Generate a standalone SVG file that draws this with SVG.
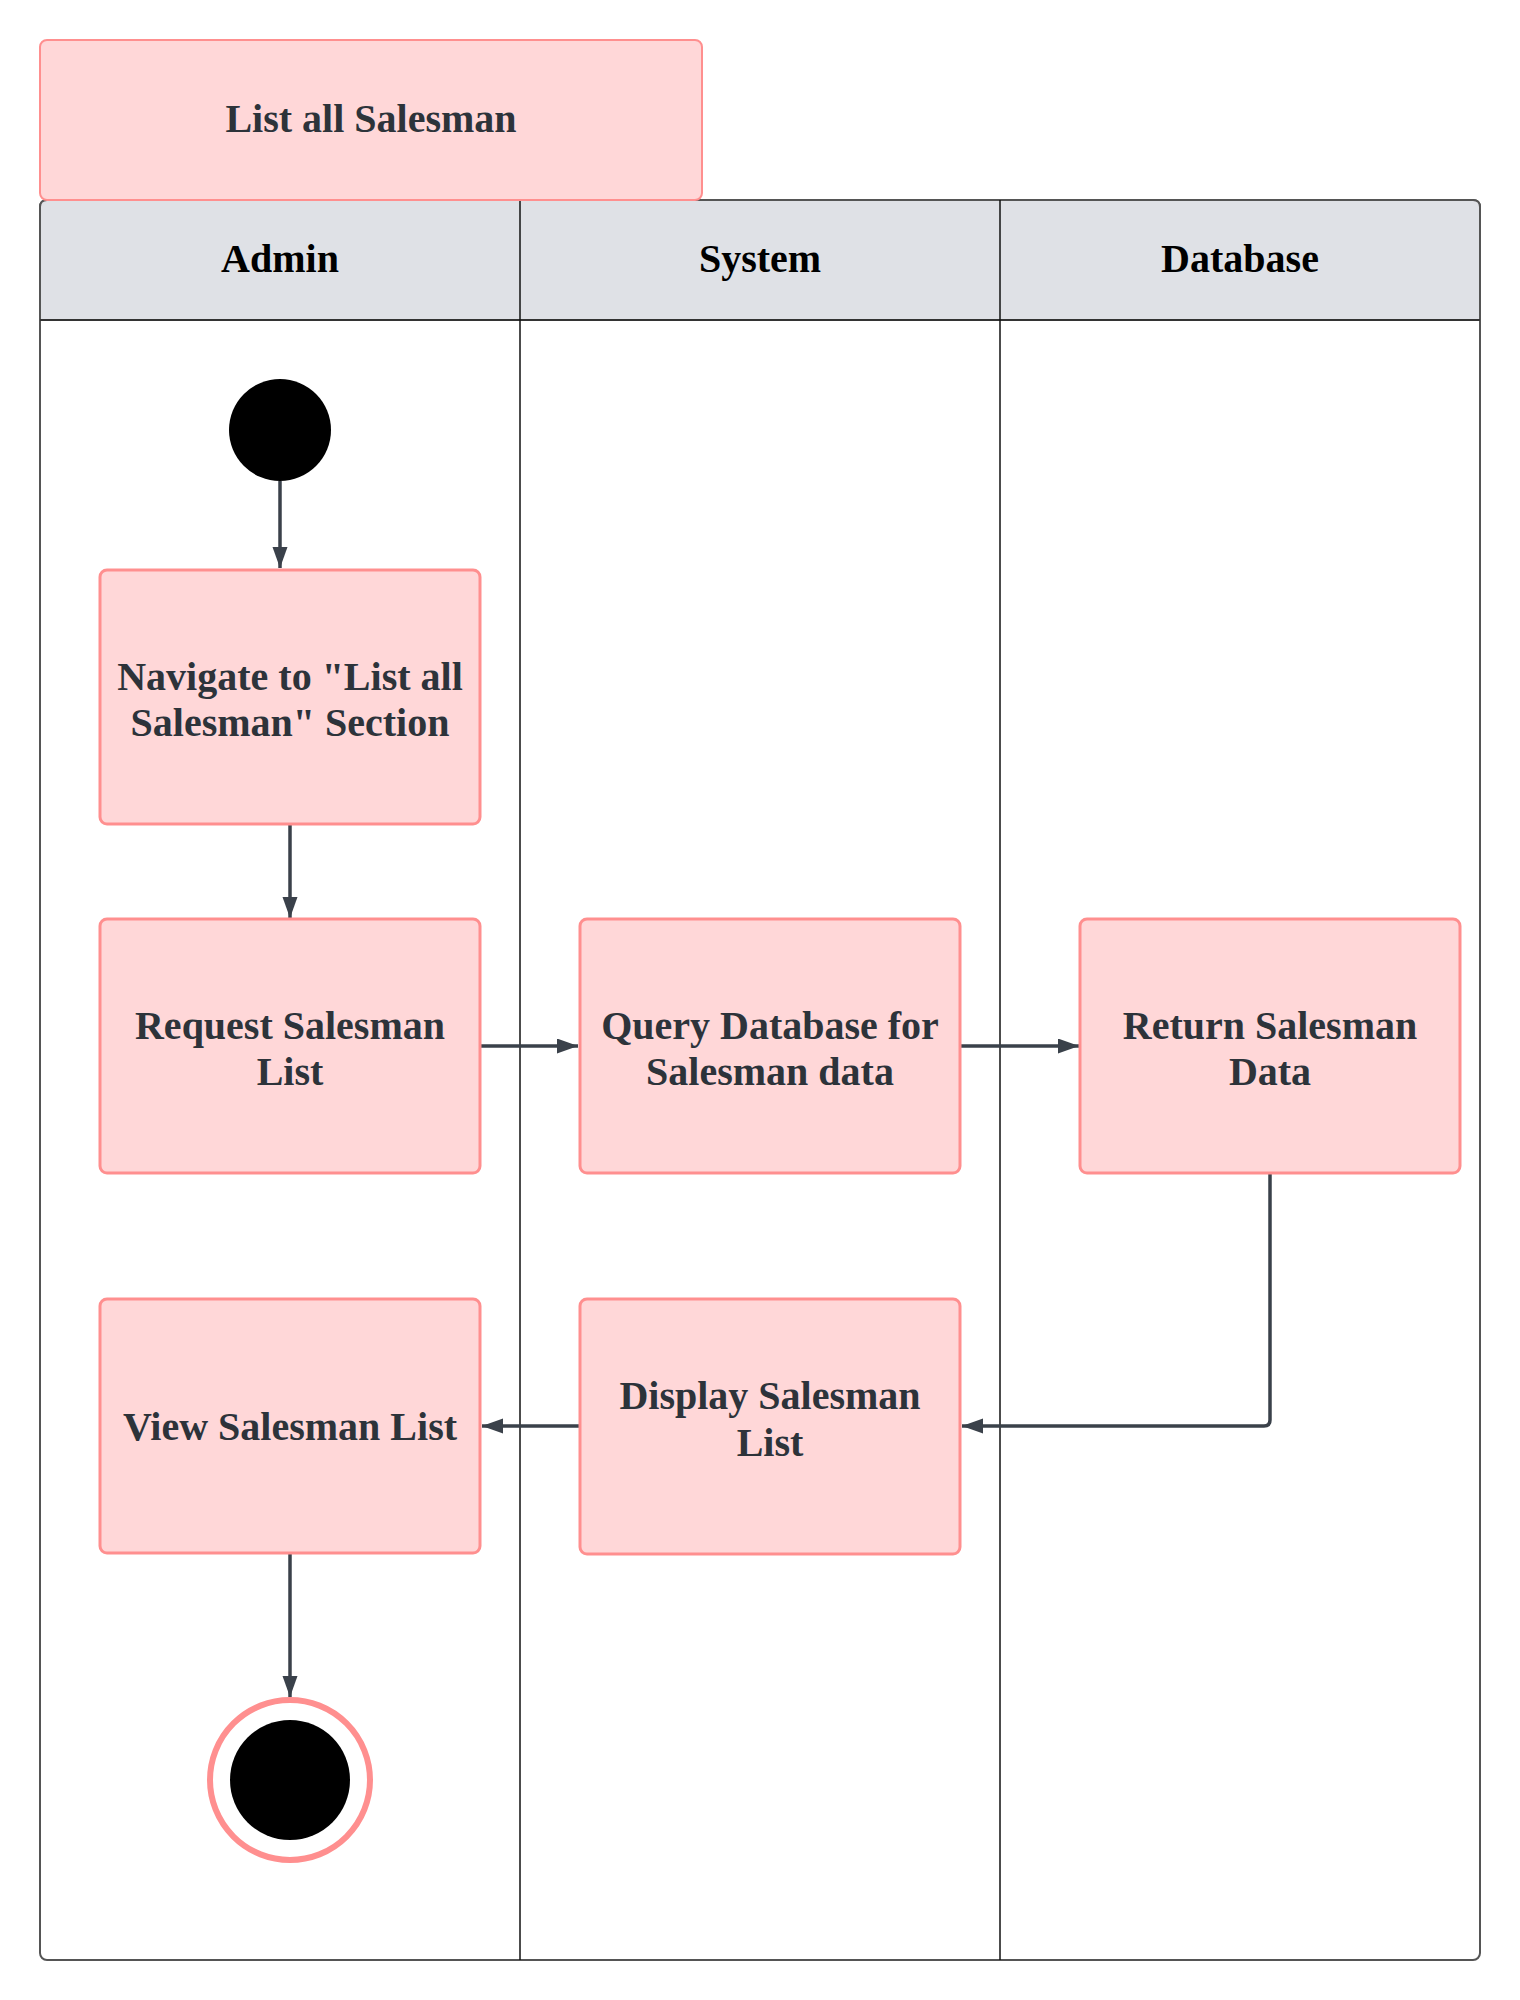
<svg xmlns="http://www.w3.org/2000/svg" width="1520" height="2000" viewBox="0 0 1520 2000">
<defs>
<style>
.act{fill:#FFD7D8;stroke:#FF8F8F;stroke-width:3}
.txt{font-family:"Liberation Serif","Times New Roman",serif;font-weight:bold;font-size:40px;fill:#2D333A;text-anchor:middle}
.hdr{font-family:"Liberation Serif","Times New Roman",serif;font-weight:bold;font-size:40px;fill:#000;text-anchor:middle}
.edge{fill:none;stroke:#3A414A;stroke-width:3.5}
</style>
<marker id="arr" markerUnits="userSpaceOnUse" markerWidth="22" markerHeight="16" refX="21" refY="7.5" orient="auto">
<path d="M0,0 L21,7.5 L0,15 z" fill="#3A414A"/>
</marker>
</defs>
<rect width="1520" height="2000" fill="#ffffff"/>
<g id="pool">
<rect x="40" y="200" width="1440" height="1760" rx="7" fill="#ffffff" stroke="#555" stroke-width="2"/>
<path d="M40 320 V207 Q40 200 47 200 H1473 Q1480 200 1480 207 V320 Z" fill="#DFE1E6" stroke="#555" stroke-width="2"/>
<line x1="40" y1="320" x2="1480" y2="320" stroke="#333" stroke-width="2"/>
<line x1="520" y1="200" x2="520" y2="1960" stroke="#111" stroke-width="1.5"/>
<line x1="1000" y1="200" x2="1000" y2="1960" stroke="#111" stroke-width="1.5"/>
<text class="hdr" x="280" y="272">Admin</text>
<text class="hdr" x="760" y="272">System</text>
<text class="hdr" x="1240" y="272">Database</text>
</g>
<g id="title">
<rect x="40" y="40" width="662" height="160" rx="7" fill="#FFD7D8" stroke="#FF8F8F" stroke-width="2"/>
<text class="txt" x="371" y="132">List all Salesman</text>
</g>
<g id="edges">
<path class="edge" d="M280 481 V568" marker-end="url(#arr)"/>
<path class="edge" d="M290 824 V918" marker-end="url(#arr)"/>
<path class="edge" d="M480 1046 H578" marker-end="url(#arr)"/>
<path class="edge" d="M960 1046 H1079" marker-end="url(#arr)"/>
<path class="edge" d="M1270 1173 V1420 Q1270 1426 1264 1426 H962" marker-end="url(#arr)"/>
<path class="edge" d="M580 1426 H482" marker-end="url(#arr)"/>
<path class="edge" d="M290 1553 V1697" marker-end="url(#arr)"/>
</g>
<g id="start">
<circle cx="280" cy="430" r="51" fill="#000"/>
</g>
<g id="navigate">
<rect class="act" x="100" y="570" width="380" height="254" rx="7"/>
<text class="txt" x="290" y="690">Navigate to "List all</text>
<text class="txt" x="290" y="736">Salesman" Section</text>
</g>
<g id="request">
<rect class="act" x="100" y="919" width="380" height="254" rx="7"/>
<text class="txt" x="290" y="1039">Request Salesman</text>
<text class="txt" x="290" y="1085">List</text>
</g>
<g id="query">
<rect class="act" x="580" y="919" width="380" height="254" rx="7"/>
<text class="txt" x="770" y="1039">Query Database for</text>
<text class="txt" x="770" y="1085">Salesman data</text>
</g>
<g id="return">
<rect class="act" x="1080" y="919" width="380" height="254" rx="7"/>
<text class="txt" x="1270" y="1039">Return Salesman</text>
<text class="txt" x="1270" y="1085">Data</text>
</g>
<g id="display">
<rect class="act" x="580" y="1299" width="380" height="255" rx="7"/>
<text class="txt" x="770" y="1409">Display Salesman</text>
<text class="txt" x="770" y="1456">List</text>
</g>
<g id="view">
<rect class="act" x="100" y="1299" width="380" height="254" rx="7"/>
<text class="txt" x="290" y="1440">View Salesman List</text>
</g>
<g id="end">
<circle cx="290" cy="1780" r="80" fill="#ffffff" stroke="#FF8F8F" stroke-width="6"/>
<circle cx="290" cy="1780" r="60" fill="#000"/>
</g>
</svg>
